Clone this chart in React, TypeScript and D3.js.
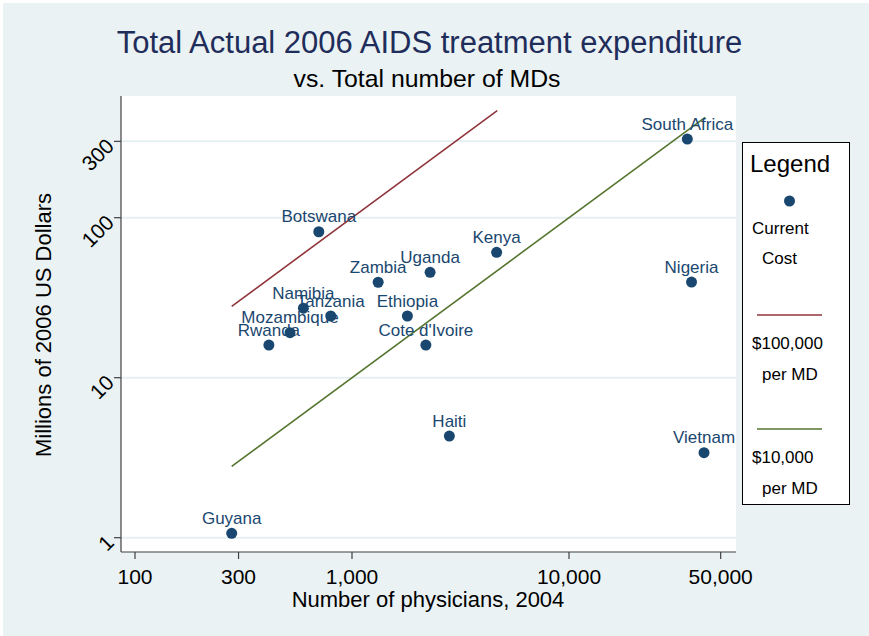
import * as d3 from "d3";

// countries: physicians (2004) and AIDS treatment cost (millions 2006 USD)
const countries = [
  "South Africa",
  "Nigeria",
  "Vietnam",
  "Kenya",
  "Uganda",
  "Zambia",
  "Ethiopia",
  "Cote d'Ivoire",
  "Haiti",
  "Botswana",
  "Namibia",
  "Tanzania",
  "Mozambique",
  "Rwanda",
  "Guyana",
];
const physicians = [35100, 36700, 41900, 4640, 2290, 1320, 1800, 2190, 2810, 703, 597, 798, 518, 414, 279];
const costs = [310, 39.6, 3.4, 60.8, 45.6, 39.5, 24.3, 16.0, 4.32, 81.7, 27.2, 24.3, 19.1, 16.0, 1.065];

// reference lines: cost = physicians * dollars per MD
const refLabels = ["$100,000", "$10,000"];
const refPerMD = [100000, 10000];
const refFrom = [279, 279];
const refTo = [4670, 42400];

const xTicks = [100, 300, 1000, 10000, 50000];
const yTicks = [1, 10, 100, 300];

const W = 869;
const H = 636;
const FONT = "'Liberation Sans', Arial, sans-serif";
const NAVY = "#1a476f";
const REF_COLORS = ["#90353b", "#55752f"];
const GRID = "#e6eff2";
const BG = "#eaf2f3";

export default function App() {
  const left = 121;
  const right = 736;
  const top = 96;
  const bottom = 552;

  const x = d3.scaleLog().domain([100, 1000]).range([135, 352]);
  const y = d3.scaleLog().domain([1, 10]).range([537.7, 377.7]);

  const fmt = d3.format(",");

  const points = countries.map((c, i) => ({ name: c, n: physicians[i], v: costs[i] }));

  const line = d3
    .line<[number, number]>()
    .x((d) => x(d[0]))
    .y((d) => y(d[1]));

  return (
    <svg
      width={W}
      height={H}
      style={{ position: "absolute", left: 0, top: 0, fontFamily: FONT }}
    >
      <rect x={0} y={0} width={W} height={H} fill="#ffffff" />
      <rect x={3} y={3} width={W - 3} height={H - 3} fill={BG} />
      <rect x={left} y={top} width={right - left} height={bottom - top} fill="#ffffff" />

      {/* gridlines */}
      {yTicks.map((t) => (
        <line key={t} x1={left} x2={right} y1={y(t)} y2={y(t)} stroke={GRID} strokeWidth={2} />
      ))}

      {/* reference lines */}
      {refPerMD.map((p, i) => (
        <path
          key={p}
          d={line([
            [refFrom[i], (refFrom[i] * p) / 1e6],
            [refTo[i], (refTo[i] * p) / 1e6],
          ])!}
          fill="none"
          stroke={REF_COLORS[i]}
          strokeWidth={1.6}
        />
      ))}

      {/* points */}
      {points.map((d) => (
        <g key={d.name}>
          <circle cx={x(d.n)} cy={y(d.v)} r={5.5} fill={NAVY} />
          <text
            x={x(d.n)}
            y={y(d.v) - 9.5}
            textAnchor="middle"
            fontSize={17}
            fill={NAVY}
          >
            {d.name}
          </text>
        </g>
      ))}

      {/* axes */}
      <line x1={left} x2={left} y1={top} y2={bottom} stroke="#404040" strokeWidth={1.2} />
      <line x1={left} x2={right} y1={bottom} y2={bottom} stroke="#404040" strokeWidth={1.2} />
      {yTicks.map((t) => (
        <g key={t}>
          <line x1={left - 7} x2={left} y1={y(t)} y2={y(t)} stroke="#404040" strokeWidth={1.2} />
          <text
            transform={`translate(${left - 11},${y(t) + 1}) rotate(-45)`}
            textAnchor="end"
            dy="0.35em"
            fontSize={21}
            fill="#000"
          >
            {fmt(t)}
          </text>
        </g>
      ))}
      {xTicks.map((t) => (
        <g key={t}>
          <line x1={x(t)} x2={x(t)} y1={bottom} y2={bottom + 7} stroke="#404040" strokeWidth={1.2} />
          <text x={x(t)} y={584} textAnchor="middle" fontSize={21} fill="#000">
            {fmt(t)}
          </text>
        </g>
      ))}

      {/* titles */}
      <text x={429.5} y={53} textAnchor="middle" fontSize={31} fill="#1f2d5b">
        Total Actual 2006 AIDS treatment expenditure
      </text>
      <text x={427} y={87} textAnchor="middle" fontSize={24.8} fill="#000">
        vs. Total number of MDs
      </text>
      <text x={428} y={607} textAnchor="middle" fontSize={22} fill="#000">
        Number of physicians, 2004
      </text>
      <text
        transform={`translate(51,325) rotate(-90)`}
        textAnchor="middle"
        fontSize={22}
        fill="#000"
      >
        Millions of 2006 US Dollars
      </text>

      {/* legend */}
      <rect x={742.5} y={142.5} width={107} height={362} fill="#fff" stroke="#000" strokeWidth={1} />
      <text x={750} y={172} fontSize={24} fill="#000">
        Legend
      </text>
      <circle cx={789.5} cy={201} r={5.5} fill={NAVY} />
      <text x={752} y={234} fontSize={17} fill="#000">
        Current
      </text>
      <text x={762} y={264} fontSize={17} fill="#000">
        Cost
      </text>
      {refLabels.map((lab, i) => {
        const ly = 315 + i * 114;
        return (
          <g key={lab}>
            <line x1={757} x2={822} y1={ly} y2={ly} stroke={REF_COLORS[i]} strokeWidth={1.6} />
            <text x={752} y={ly + 34} fontSize={17} fill="#000">
              {lab}
            </text>
            <text x={762} y={ly + 65} fontSize={17} fill="#000">
              per MD
            </text>
          </g>
        );
      })}
    </svg>
  );
}
